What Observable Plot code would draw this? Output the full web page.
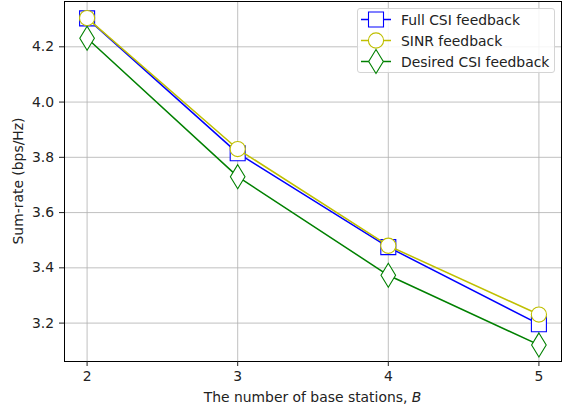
<!DOCTYPE html>
<html>
<head>
<meta charset="utf-8">
<script src="https://cdn.jsdelivr.net/npm/d3@7"></script>
<script src="https://cdn.jsdelivr.net/npm/@observablehq/plot@0.6"></script>
<style>
  html, body { margin: 0; padding: 0; background: #fff; }
  #wrap { position: relative; width: 563px; height: 412px; font-family: "DejaVu Sans", sans-serif; }
  #legend { position: absolute; left: 357px; top: 8px; width: 198px; height: 65px;
    border: 1px solid #d4d4d4; border-radius: 3px; background: rgba(255,255,255,0.85); box-sizing: border-box; }
  .row { height: 21px; display: flex; align-items: center; font-size: 13.9px; color: #222; white-space: nowrap; }
  .row svg { margin-left: 2px; margin-right: 9px; overflow: visible; flex: none; }
</style>
</head>
<body>
<div id="wrap"></div>
<script>
const stations = [2, 3, 4, 5];
const fullCSI = [4.303, 3.815, 3.475, 3.196];
const sinrFB = [4.304, 3.830, 3.480, 3.231];
const desiredCSI = [4.231, 3.730, 3.373, 3.121];
const seriesNames = ["Full CSI feedback", "SINR feedback", "Desired CSI feedback"];
const seriesColors = ["#0000ff", "#bfbf00", "#008000"];
const yTicks = [3.2, 3.4, 3.6, 3.8, 4.0, 4.2];

const sqSym = { draw(ctx) { const h = 7.5; ctx.moveTo(-h, -h); ctx.lineTo(h, -h); ctx.lineTo(h, h); ctx.lineTo(-h, h); ctx.closePath(); } };
const ciSym = { draw(ctx) { const r = 7.6; ctx.moveTo(r, 0); ctx.arc(0, 0, r, 0, 2 * Math.PI); ctx.closePath(); } };
const diSym = { draw(ctx) { ctx.moveTo(0, -12); ctx.lineTo(7.3, 0); ctx.lineTo(0, 12); ctx.lineTo(-7.3, 0); ctx.closePath(); } };
const symbols = [sqSym, ciSym, diSym];

const seriesValues = [fullCSI, sinrFB, desiredCSI];
const data = seriesValues.map((vals, i) => stations.map((b, j) => ({ b, v: vals[j], s: seriesNames[i] })));

const marks = [
  Plot.gridX(stations, { stroke: "#b0b0b0", strokeOpacity: 1, strokeWidth: 0.8 }),
  Plot.gridY(yTicks, { stroke: "#b0b0b0", strokeOpacity: 1, strokeWidth: 0.8 }),
];
data.forEach((d, i) => {
  marks.push(Plot.line(d, { x: "b", y: "v", stroke: seriesColors[i], strokeWidth: 1.5 }));
  marks.push(Plot.dot(d, { x: "b", y: "v", symbol: symbols[i], r: 7, fill: "white", stroke: seriesColors[i], strokeWidth: 1.1 }));
});
marks.push(Plot.frame({ stroke: "#000", strokeWidth: 1 }));
marks.push(Plot.axisX(stations, { tickSize: 5, tickPadding: 5, tickFormat: d => String(d), fontSize: 13.9, label: null }));
marks.push(Plot.axisY(yTicks, { tickSize: 5, tickPadding: 5.5, tickFormat: d3.format(".1f"), fontSize: 13.9, label: null }));

const chart = Plot.plot({
  width: 563, height: 412,
  marginLeft: 64, marginRight: 2, marginTop: 1, marginBottom: 51,
  style: { fontFamily: "DejaVu Sans, sans-serif", fontSize: "13.9px", color: "#222", background: "white" },
  x: { domain: [1.85, 5.15] },
  y: { domain: [3.061, 4.364] },
  marks
});

const svg = d3.select(chart);
const xl = svg.append("text").attr("x", 312.5).attr("y", 401.5).attr("text-anchor", "middle")
  .attr("font-size", 13.9).attr("fill", "#222");
xl.append("tspan").text("The number of base stations, ");
xl.append("tspan").attr("font-style", "italic").text("B");
svg.append("text").attr("transform", "translate(23,181) rotate(-90)").attr("text-anchor", "middle")
  .attr("font-size", 13.9).attr("fill", "#222").text("Sum-rate (bps/Hz)");

const wrap = document.getElementById("wrap");
wrap.appendChild(chart);

const legend = d3.select(wrap).append("div").attr("id", "legend");
seriesNames.forEach((name, i) => {
  const row = legend.append("div").attr("class", "row");
  const s = row.append("svg").attr("width", 32).attr("height", 21);
  s.append("line").attr("x1", 1).attr("x2", 31).attr("y1", 10.5).attr("y2", 10.5)
    .attr("stroke", seriesColors[i]).attr("stroke-width", 1.5);
  const p = d3.path();
  symbols[i].draw(p);
  s.append("path").attr("d", p.toString()).attr("transform", "translate(16,10.5)")
    .attr("fill", "white").attr("stroke", seriesColors[i]).attr("stroke-width", 1.1);
  row.append("span").text(name);
});
</script>
</body>
</html>
